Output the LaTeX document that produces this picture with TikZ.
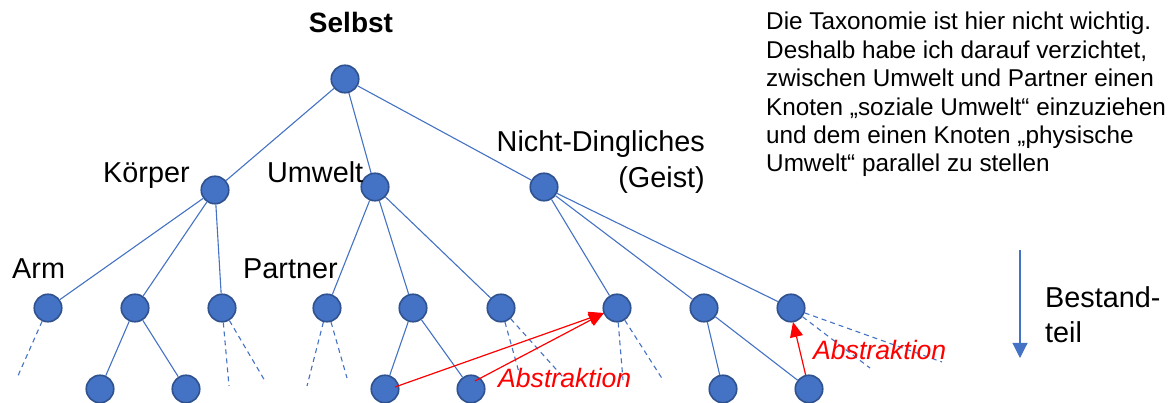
\documentclass[tikz,border=0pt]{standalone}
\usepackage{fontspec}
\setmainfont{Liberation Sans}
\usetikzlibrary{arrows.meta}
\definecolor{nodefill}{HTML}{4472C4}
\definecolor{nodeline}{HTML}{2F528F}
\definecolor{edgecol}{HTML}{4472C4}
\tikzset{
  dot/.style={circle, minimum size=27.5pt, inner sep=0pt, fill=nodefill, draw=nodeline, line width=1.6pt},
  edge/.style={draw=edgecol, line width=1.1pt},
  dedge/.style={draw=edgecol, line width=1.1pt, dash pattern=on 5pt off 4pt},
  redarrow/.style={draw=red, line width=1.2pt, -{Triangle[length=15pt,width=13pt]}},
  lbl/.style={font=\fontsize{28.8}{34}\selectfont, inner sep=0pt},
  abst/.style={font=\fontsize{26.6}{30}\selectfont\itshape, text=red, inner sep=0pt, anchor=base west},
  note/.style={font=\fontsize{24.3}{28.4}\selectfont, inner sep=0pt, anchor=north west, align=left}
}
\begin{document}
\begin{tikzpicture}[x=1pt,y=-1pt]
\useasboundingbox (0,0) rectangle (1168,403);
% nodes
\node[dot] (root) at (345,79) {};
\node[dot] (koer) at (215,190) {};
\node[dot] (umw) at (375,187) {};
\node[dot] (nicht) at (544,187) {};
\node[dot] (a1) at (48,308) {};
\node[dot] (a2) at (135,308) {};
\node[dot] (a3) at (222,308) {};
\node[dot] (a4) at (327,308) {};
\node[dot] (a5) at (413,308) {};
\node[dot] (a6) at (501,308) {};
\node[dot] (a7) at (617,308) {};
\node[dot] (a8) at (704,308) {};
\node[dot] (a9) at (791,308) {};
\node[dot] (b1) at (100,389) {};
\node[dot] (b2) at (186,389) {};
\node[dot] (b3) at (385,389) {};
\node[dot] (b4) at (471,389) {};
\node[dot] (b5) at (723,389) {};
\node[dot] (b6) at (809,389) {};
% edges
\draw[edge] (root) -- (koer);
\draw[edge] (root) -- (umw);
\draw[edge] (root) -- (nicht);
\draw[edge] (koer) -- (a1);
\draw[edge] (koer) -- (a2);
\draw[edge] (koer) -- (a3);
\draw[edge] (umw) -- (a4);
\draw[edge] (umw) -- (a5);
\draw[edge] (umw) -- (a6);
\draw[edge] (nicht) -- (a7);
\draw[edge] (nicht) -- (a8);
\draw[edge] (nicht) -- (a9);
\draw[edge] (a2) -- (b1);
\draw[edge] (a2) -- (b2);
\draw[edge] (a5) -- (b3);
\draw[edge] (a5) -- (b4);
\draw[edge] (a8) -- (b5);
\draw[edge] (a8) -- (b6);
% dashed free ends
\coordinate (d1) at (17,378);
\coordinate (d2) at (229,386);
\coordinate (d3) at (265,381);
\coordinate (d4) at (307,386);
\coordinate (d5) at (347,378);
\coordinate (d6) at (520,376);
\coordinate (d7) at (563,377);
\coordinate (d8) at (623,380);
\coordinate (d9) at (663,380);
\coordinate (d10) at (870,368);
\coordinate (d11) at (942,362);
\draw[dedge] (a1) -- (d1);
\draw[dedge] (a3) -- (d2);
\draw[dedge] (a3) -- (d3);
\draw[dedge] (a4) -- (d4);
\draw[dedge] (a4) -- (d5);
\draw[dedge] (a6) -- (d6);
\draw[dedge] (a6) -- (d7);
\draw[dedge] (a7) -- (d8);
\draw[dedge] (a7) -- (d9);
\draw[dedge] (a9) -- (d10);
\draw[dedge] (a9) -- (d11);
% red arrows
\coordinate (tip1) at (604,313);
\coordinate (tip2) at (793,322);
\draw[redarrow] ([shift={(10,-2)}]b3.center) -- (tip1);
\draw[redarrow] ([shift={(4,-8)}]b4.center) -- (tip1);
\draw[redarrow] (b6) -- (tip2);
\node[abst] (ab1) at (498,388) {Abstraktion};
\node[abst] (ab2) at (813,360) {Abstraktion};
% labels
\node[lbl, anchor=base, font=\fontsize{28}{32}\selectfont\bfseries] (selbst) at (351,33) {Selbst};
\node[lbl, anchor=base west] (lkoer) at (103,183) {Körper};
\node[lbl, anchor=base west] (lumw) at (267,183) {Umwelt};
\node[lbl, anchor=base east] (lnicht) at (705,152) {Nicht-Dingliches};
\node[lbl, anchor=base east] (lgeist) at (705,188) {(Geist)};
\node[lbl, anchor=base west] (larm) at (12,279) {Arm};
\node[lbl, anchor=base west] (lpart) at (243,279) {Partner};
% Bestandteil arrow
\coordinate (bs) at (1020,250);
\coordinate (be) at (1020,358);
\draw[draw=edgecol, line width=1.1pt, -{Triangle[length=15pt,width=15pt]}] (bs) -- (be);
\node[lbl, anchor=base west, align=left] (lbest) at (1045,308) {Bestand-};
\node[lbl, anchor=base west, align=left] (lteil) at (1045,343) {teil};
% note
\node[note] (notetext) at (766,12) {Die Taxonomie ist hier nicht wichtig.\\
Deshalb habe ich darauf verzichtet,\\
zwischen Umwelt und Partner einen\\
Knoten „soziale Umwelt“ einzuziehen\\
und dem einen Knoten „physische\\
Umwelt“ parallel zu stellen};
\end{tikzpicture}
\end{document}
